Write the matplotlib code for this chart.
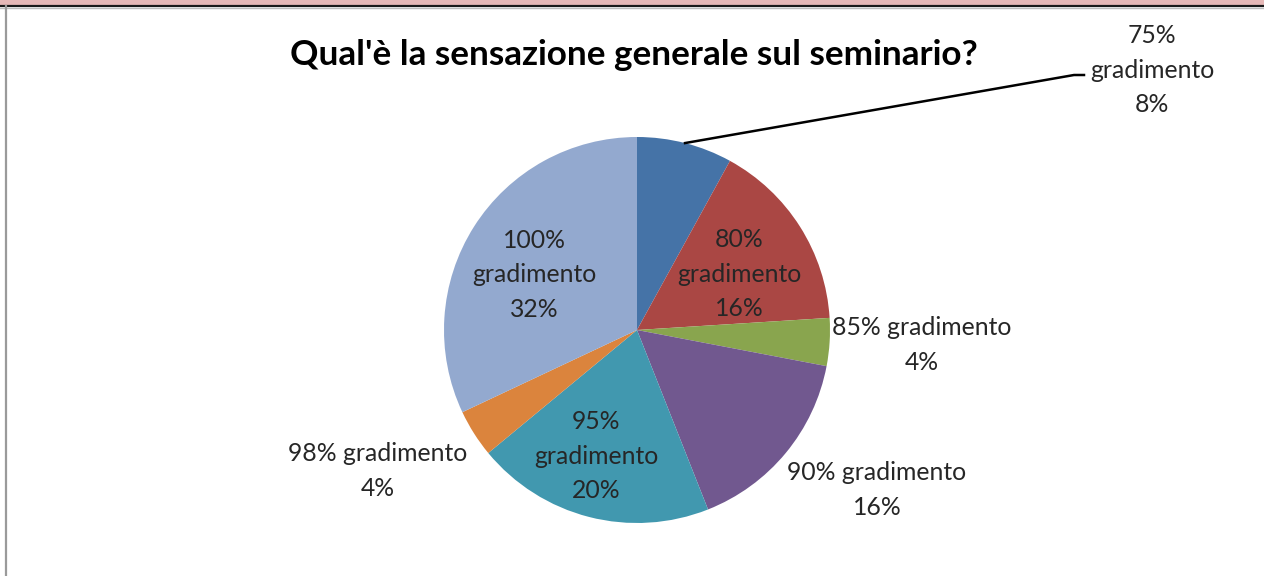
"""Pie chart: Qual'è la sensazione generale sul seminario?"""

import matplotlib

matplotlib.use("Agg")
import matplotlib.pyplot as plt
import numpy as np
from matplotlib.patches import Rectangle

plt.rcParams["font.family"] = ["Lato", "DejaVu Sans"]

# ---- data ----
categories = ["75% gradimento", "80% gradimento", "85% gradimento", "90% gradimento",
              "95% gradimento", "98% gradimento", "100% gradimento"]
shares = [8, 16, 4, 16, 20, 4, 32]
colors = ["#4573A7", "#AA4744", "#89A54E", "#71588F", "#4198AF", "#DB843D", "#93A9CF"]

label_texts = [
    "75%\ngradimento\n8%",
    "80%\ngradimento\n16%",
    "85% gradimento\n4%",
    "90% gradimento\n16%",
    "95%\ngradimento\n20%",
    "98% gradimento\n4%",
    "100%\ngradimento\n32%",
]
# label centres in pixel coords (x from left, y from top)
label_pos = [(1152, 70), (739, 274), (922, 345), (877, 490), (596, 456), (378, 471), (534, 275)]

W, H = 1264, 576
cx, cy, r = 637, 330, 193

fig = plt.figure(figsize=(W / 100, H / 100), dpi=100)
ax = fig.add_axes([0, 0, 1, 1])

# frame bits from the screenshot
ax.add_patch(Rectangle((0, H - 5), W, 5, color="#E6B8B7", zorder=0))
ax.plot([0, W], [H - 5.5, H - 5.5], color="#1a1a1a", lw=1.6, zorder=1)
ax.plot([0, W], [H - 7.5, H - 7.5], color="#bdbdbd", lw=1, zorder=1)
ax.plot([6, 6], [0, H - 6], color="#9a9a9a", lw=1.6, zorder=1)

wedges, _ = ax.pie(shares, colors=colors, startangle=90, counterclock=False,
                   center=(cx, H - cy), radius=r, frame=True,
                   wedgeprops=dict(edgecolor="none"))
ax.set_xlim(0, W); ax.set_ylim(0, H)
ax.set_aspect("equal")
ax.axis("off")

for txt, (px, py) in zip(label_texts, label_pos):
    ax.text(px, H - py, txt, ha="center", va="center", fontsize=17.8,
            color="#262626", linespacing=1.58)

# leader line for the first slice
w0 = wedges[0]
mid = np.deg2rad((w0.theta1 + w0.theta2) / 2)
ex, ey = cx + r * np.cos(mid), H - cy + r * np.sin(mid)
ax.plot([ex, 1074, 1084], [ey, H - 75, H - 75], color="black", lw=1.8)

ax.text(634, H - 55, "Qual'è la sensazione generale sul seminario?", ha="center",
        va="center", fontsize=25.3, fontweight="bold", color="black")

fig.savefig("out.png", dpi=100)
